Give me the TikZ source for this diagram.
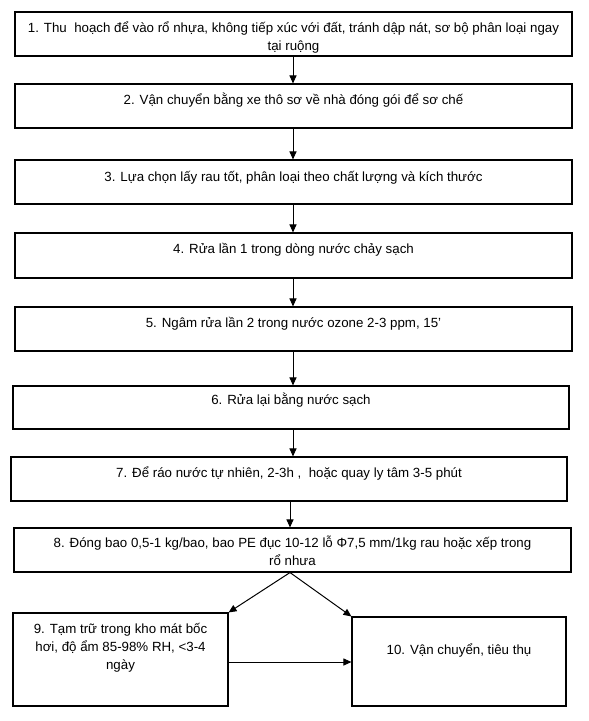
\documentclass[tikz,border=0pt]{standalone}
\usepackage{fontspec}
\setmainfont{Liberation Sans}
\usetikzlibrary{arrows.meta}
\begin{document}
\begin{tikzpicture}[x=1pt,y=-1pt,
  box/.style={draw=black,line width=1.1pt,inner sep=0pt,minimum width=#1},
  txt/.style={font=\fontsize{13.3}{18}\selectfont,align=center,inner sep=0pt,anchor=base},
  arr/.style={line width=1pt,-{Triangle[length=8pt,width=7pt]}}]
\useasboundingbox (0,0) rectangle (589,721);
\fill[white] (0,0) rectangle (589,721);
% boxes
\node[box=557pt,minimum height=44pt] (b1) at (293.5,34) {};
\node[box=557pt,minimum height=44pt] (b2) at (293.5,106) {};
\node[box=557pt,minimum height=44pt] (b3) at (293.5,182) {};
\node[box=557pt,minimum height=45pt] (b4) at (293.5,255.5) {};
\node[box=557pt,minimum height=44pt] (b5) at (293.5,329) {};
\node[box=556pt,minimum height=43pt] (b6) at (291,407.5) {};
\node[box=556pt,minimum height=44pt] (b7) at (289,479) {};
\node[box=557pt,minimum height=44pt] (b8) at (292.5,550) {};
\node[box=215pt,minimum height=93pt] (b9) at (120.5,659.5) {};
\node[box=214pt,minimum height=89pt] (b10) at (459,661.5) {};
% texts
\node[txt] (t1) at (293.5,50) {1. Thu\ \ hoạch để vào rổ nhựa, không tiếp xúc với đất, tránh dập nát, sơ bộ phân loại ngay\\tại ruộng};
\node[txt] (t2) at (293.5,104) {2. Vận chuyển bằng xe thô sơ về nhà đóng gói để sơ chế};
\node[txt] (t3) at (293.5,181) {3. Lựa chọn lấy rau tốt, phân loại theo chất lượng và kích thước};
\node[txt] (t4) at (293.5,253) {4. Rửa lần 1 trong dòng nước chảy sạch};
\node[txt] (t5) at (293.5,327) {5. Ngâm rửa lần 2 trong nước ozone 2-3 ppm, 15’};
\node[txt] (t6) at (291,404) {6. Rửa lại bằng nước sạch};
\node[txt] (t7) at (289,477) {7. Để ráo nước tự nhiên, 2-3h ,\ \ hoặc quay ly tâm 3-5 phút};
\node[txt] (t8) at (292.5,565.5) {8. Đóng bao 0,5-1 kg/bao, bao PE đục 10-12 lỗ Φ7,5 mm/1kg rau hoặc xếp trong\\rổ nhưa};
\node[txt] (t9) at (120.5,669) {9. Tạm trữ trong kho mát bốc\\hơi, độ ẩm 85-98\% RH, <3-4\\ngày};
\node[txt] (t10) at (459,654) {10. Vận chuyển, tiêu thụ};
% connectors
\coordinate (ax) at (293,0);
\coordinate (ay) at (290,0);
\draw[arr] (b1.south -| ax) -- (b2.north -| ax);
\draw[arr] (b2.south -| ax) -- (b3.north -| ax);
\draw[arr] (b3.south -| ax) -- (b4.north -| ax);
\draw[arr] (b4.south -| ax) -- (b5.north -| ax);
\draw[arr] (b5.south -| ax) -- (b6.north -| ax);
\draw[arr] (b6.south -| ax) -- (b7.north -| ax);
\draw[arr] (b7.south -| ay) -- (b8.north -| ay);
\draw[arr] (b8.south -| ay) -- (b9.north east);
\draw[arr] (b8.south -| ay) -- (b10.north west);
\draw[arr] (b9.east |- 0,662) -- (b10.west |- 0,662);
\end{tikzpicture}
\end{document}
